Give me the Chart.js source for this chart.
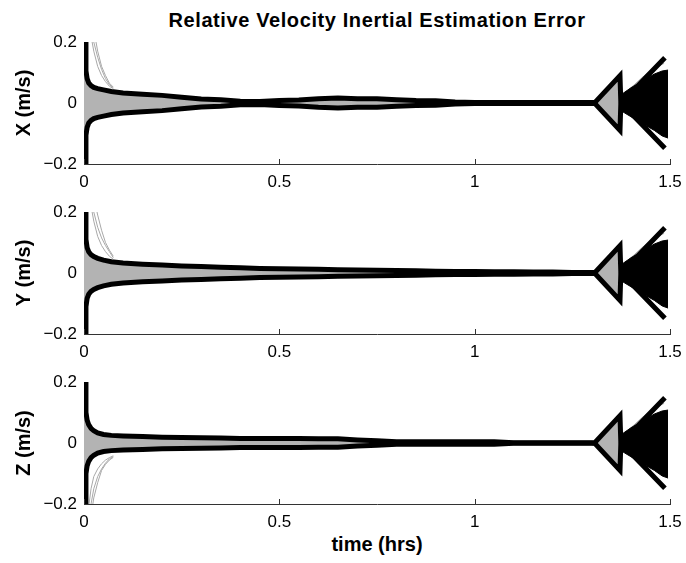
<!DOCTYPE html>
<html>
<head>
<meta charset="utf-8">
<script src="https://cdn.jsdelivr.net/npm/chart.js@4.4.1/dist/chart.umd.min.js"></script>
<style>
  body { margin: 0; background: #fff; }
  #wrap { position: relative; width: 686px; height: 563px; overflow: hidden; font-family: "Liberation Sans", Arial, sans-serif; }
  canvas { position: absolute; left: 0; }
  .lbl { position: absolute; font-weight: bold; font-size: 20px; line-height: 20px; text-align: center; color: #000; white-space: nowrap; }
</style>
</head>
<body>
<div id="wrap">
  <div class="lbl" style="left:77px;width:600px;top:10px;letter-spacing:0.6px">Relative Velocity Inertial Estimation Error</div>
  <canvas id="cx" width="686" height="158" style="top:32px"></canvas>
  <canvas id="cy" width="686" height="158" style="top:202px"></canvas>
  <canvas id="cz" width="686" height="158" style="top:372px"></canvas>
  <div class="lbl" style="left:77px;width:600px;top:534px">time (hrs)</div>
</div>
<script>
// time axis (hrs) for the 3-sigma envelopes and the grey run band
var envT = [0, 0.003, 0.005, 0.008, 0.012, 0.018, 0.025, 0.035, 0.05, 0.07, 0.1, 0.15, 0.2, 0.25, 0.3, 0.35, 0.4, 0.45, 0.5, 0.55,
            0.6, 0.65, 0.7, 0.75, 0.8, 0.85, 0.9, 0.95, 1.0, 1.05, 1.1, 1.15, 1.2, 1.25, 1.3, 1.308, 1.372, 1.374, 1.378, 1.487];

// upper 3-sigma bound, m/s (lower bound is its mirror)
var xEnv = [0.4, 0.2, 0.105, 0.08, 0.066, 0.057, 0.051, 0.047, 0.043, 0.038, 0.033, 0.029, 0.025, 0.019, 0.013, 0.011, 0.006, 0.005, 0.008, 0.01,
            0.014, 0.016, 0.014, 0.014, 0.011, 0.008, 0.007, 0.003, 0.002, 0.002, 0.002, 0.002, 0.0015, 0.0015, 0.0015, 0.002, 0.09, 0.006, 0.004, 0.148];
var yEnv = [0.4, 0.2, 0.11, 0.083, 0.07, 0.06, 0.054, 0.048, 0.042, 0.037, 0.033, 0.029, 0.026, 0.023, 0.021, 0.019, 0.017, 0.015, 0.014, 0.013,
            0.012, 0.011, 0.01, 0.009, 0.008, 0.007, 0.006, 0.005, 0.005, 0.004, 0.004, 0.003, 0.003, 0.002, 0.002, 0.002, 0.09, 0.006, 0.004, 0.148];
var zEnv = [0.4, 0.2, 0.1, 0.075, 0.06, 0.048, 0.04, 0.033, 0.028, 0.025, 0.023, 0.021, 0.019, 0.018, 0.017, 0.016, 0.015, 0.015, 0.015, 0.015,
            0.014, 0.014, 0.01, 0.007, 0.004, 0.004, 0.004, 0.004, 0.004, 0.004, 0.001, 0.001, 0.001, 0.001, 0.001, 0.002, 0.09, 0.006, 0.004, 0.148];

// half-width of the grey band of Monte Carlo runs
var xGray = [0.2, 0.19, 0.095, 0.073, 0.06, 0.051, 0.045, 0.041, 0.037, 0.033, 0.028, 0.025, 0.021, 0.016, 0.011, 0.009, 0.005, 0.004, 0.007, 0.009,
             0.012, 0.014, 0.012, 0.012, 0.009, 0.007, 0.006, 0.002, 0.001, 0.001, 0.001, 0.001, 0.001, 0.001, 0.001, 0.002, 0.085, 0.01, 0.01, 0.1];
var yGray = [0.2, 0.19, 0.1, 0.076, 0.063, 0.053, 0.047, 0.042, 0.036, 0.032, 0.028, 0.025, 0.022, 0.02, 0.018, 0.016, 0.014, 0.013, 0.012, 0.011,
             0.01, 0.009, 0.008, 0.007, 0.006, 0.006, 0.005, 0.004, 0.004, 0.003, 0.003, 0.002, 0.002, 0.001, 0.001, 0.002, 0.085, 0.01, 0.01, 0.1];
var zGray = [0.2, 0.19, 0.09, 0.068, 0.053, 0.042, 0.035, 0.029, 0.024, 0.022, 0.02, 0.018, 0.016, 0.015, 0.015, 0.014, 0.013, 0.013, 0.013, 0.013,
             0.012, 0.012, 0.008, 0.005, 0.003, 0.003, 0.003, 0.003, 0.003, 0.003, 0.001, 0.001, 0.001, 0.001, 0.001, 0.002, 0.085, 0.01, 0.01, 0.1];

// dense black cluster after the second update gap
var denseT  = [1.374, 1.378, 1.40, 1.42, 1.44, 1.46, 1.48, 1.495];
var denseUp = [0.01, 0.03, 0.05, 0.065, 0.08, 0.095, 0.105, 0.108];
var denseLo = [-0.01, -0.028, -0.045, -0.06, -0.075, -0.09, -0.108, -0.115];

// stray grey runs
var outT  = [0.012, 0.018, 0.025, 0.035, 0.045, 0.055, 0.065, 0.075];
var xOutA = [0.3, 0.26, 0.2, 0.15, 0.11, 0.08, 0.06, 0.05];
var xOutB = [0.34, 0.3, 0.24, 0.17, 0.12, 0.09, 0.065, 0.052];
var xOutC = [0.26, 0.22, 0.17, 0.12, 0.09, 0.07, 0.055, 0.047];
var yOutA = [0.3, 0.25, 0.2, 0.15, 0.115, 0.09, 0.07, 0.05];
var yOutB = [0.36, 0.3, 0.25, 0.19, 0.14, 0.1, 0.075, 0.055];
var yOutC = [0.27, 0.22, 0.17, 0.12, 0.09, 0.07, 0.055, 0.045];
var zOutA = [-0.21, -0.15, -0.11, -0.085, -0.068, -0.056, -0.048, -0.042];
var zOutB = [-0.26, -0.2, -0.15, -0.11, -0.085, -0.066, -0.052, -0.045];
var zOutC = [-0.3, -0.24, -0.18, -0.13, -0.09, -0.07, -0.056, -0.047];
var endGrayT = [1.378, 1.40, 1.43, 1.46, 1.485];
var endGrayV = [0.02, 0.05, 0.085, 0.115, 0.13];

var xTicks = [0, 0.5, 1, 1.5];
var yTicks = [-0.2, 0, 0.2];

Chart.defaults.font.family = '"Liberation Sans", Arial, sans-serif';
Chart.defaults.color = '#000';

function pts(ts, vs, sign) {
  return ts.map(function (t, i) { return { x: t, y: (sign || 1) * vs[i] }; });
}

var innerTicks = {
  id: 'innerTicks',
  afterDraw: function (chart) {
    var ctx = chart.ctx, xs = chart.scales.x, b = chart.chartArea.bottom;
    ctx.save();
    ctx.strokeStyle = '#333';
    ctx.lineWidth = 1;
    xs.ticks.forEach(function (t) {
      var px = Math.round(xs.getPixelForValue(t.value)) + 0.5;
      ctx.beginPath();
      ctx.moveTo(px, b);
      ctx.lineTo(px, b - 5);
      ctx.stroke();
    });
    ctx.restore();
  }
};

function line(data, color, width, order, extra) {
  var d = { data: data, borderColor: color, borderWidth: width, pointRadius: 0, tension: 0,
            fill: false, order: order, clip: 0, borderJoinStyle: 'miter' };
  for (var k in extra) d[k] = extra[k];
  return d;
}

function makeChart(id, title, env, gray, outs) {
  var gr = '#b3b3b3';
  var sets = [
    line(pts(envT, gray), 'rgba(0,0,0,0)', 0, 6, { fill: '+1', backgroundColor: gr }),
    line(pts(envT, gray, -1), 'rgba(0,0,0,0)', 0, 6),
    line(pts(denseT, denseUp), '#000', 1, 3, { fill: '+1', backgroundColor: '#000' }),
    line(pts(denseT, denseLo), '#000', 1, 3),
    line(pts(endGrayT, endGrayV), '#a8a8a8', 1, 4),
    line(pts(envT, env), '#000', 5, 1),
    line(pts(envT, env, -1), '#000', 5, 1)
  ];
  outs.forEach(function (o) { sets.push(line(pts(outT, o), '#a8a8a8', 1, 5)); });

  return new Chart(document.getElementById(id), {
    type: 'line',
    data: { datasets: sets },
    plugins: [innerTicks],
    options: {
      responsive: false,
      animation: false,
      devicePixelRatio: 1,
      layout: { padding: { top: 10, right: 16, bottom: 0, left: 0 } },
      plugins: { legend: { display: false }, tooltip: { enabled: false } },
      scales: {
        x: {
          type: 'linear', min: 0, max: 1.5,
          grid: { display: false, drawTicks: false },
          border: { display: true, color: '#333', width: 1 },
          ticks: { font: { size: 17 }, padding: 8, maxRotation: 0,
                   callback: function (v) { return String(v); } },
          afterBuildTicks: function (s) { s.ticks = xTicks.map(function (v) { return { value: v }; }); },
          afterFit: function (s) { s.height = 26; s.paddingLeft = 0; s.paddingRight = 0; }
        },
        y: {
          type: 'linear', min: -0.2, max: 0.2,
          grid: { display: false, drawTicks: false },
          border: { display: false },
          ticks: { font: { size: 17 }, padding: 7,
                   callback: function (v) { return v < 0 ? '\u2212' + Math.abs(v) : String(v); } },
          afterBuildTicks: function (s) { s.ticks = yTicks.map(function (v) { return { value: v }; }); },
          afterFit: function (s) { s.width = 84; s.paddingTop = 0; s.paddingBottom = 0; },
          title: { display: true, text: title, font: { size: 20, weight: 'bold' }, padding: { top: 12, bottom: 0 } }
        }
      }
    }
  });
}

makeChart('cx', 'X (m/s)', xEnv, xGray, [xOutA, xOutB, xOutC]);
makeChart('cy', 'Y (m/s)', yEnv, yGray, [yOutA, yOutB, yOutC]);
makeChart('cz', 'Z (m/s)', zEnv, zGray, [zOutA, zOutB, zOutC]);
</script>
</body>
</html>
